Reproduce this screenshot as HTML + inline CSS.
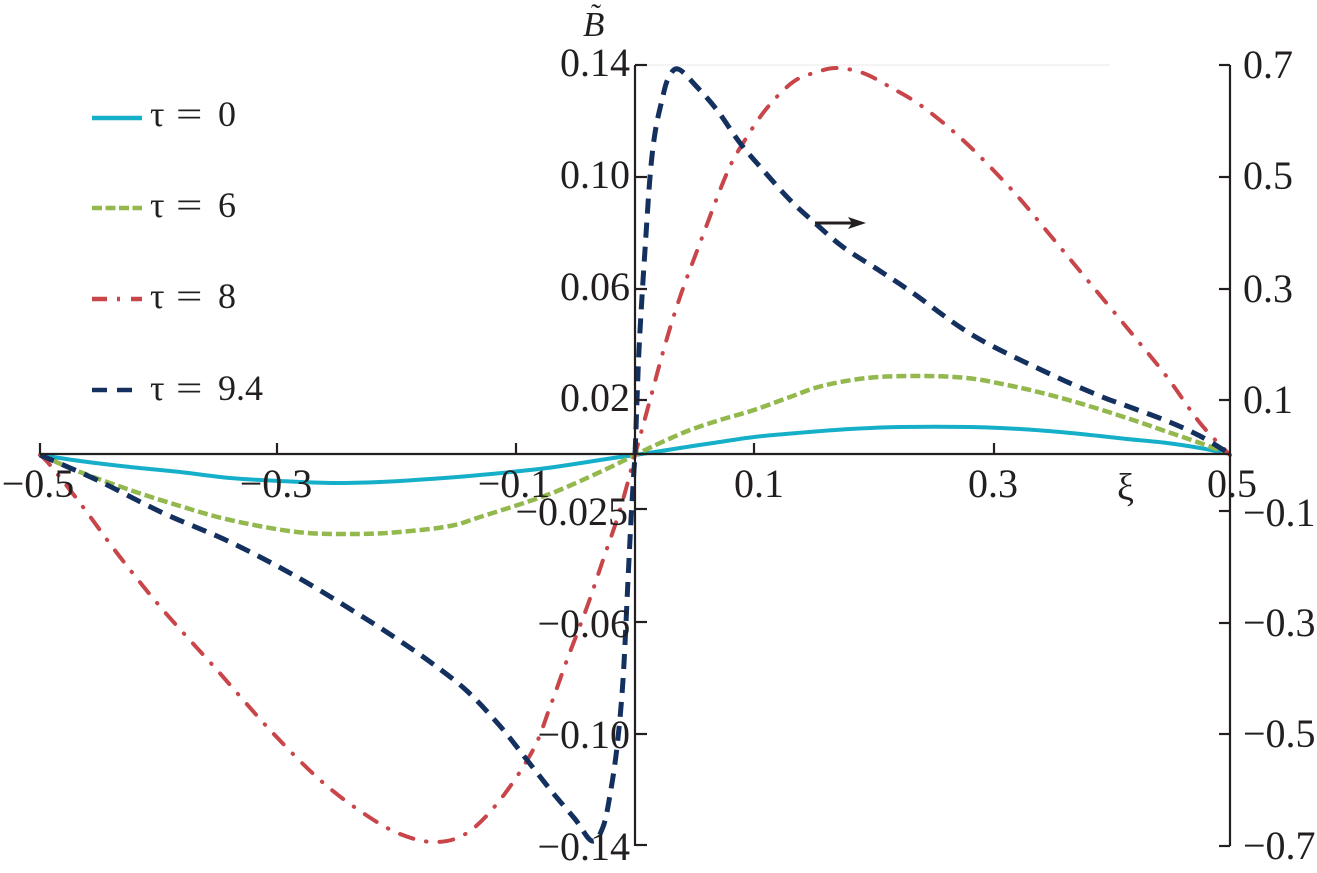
<!DOCTYPE html>
<html><head><meta charset="utf-8"><style>
html,body{margin:0;padding:0;background:#fff;}
svg{display:block;}
</style></head><body>
<svg id="chart" width="1317" height="873" viewBox="0 0 1317 873" xmlns="http://www.w3.org/2000/svg" font-family="'Liberation Serif', 'Times New Roman', serif" fill="#231f20">
<rect width="1317" height="873" fill="#fff"/>
<line x1="647" y1="65" x2="1110" y2="65" stroke="#f0f0f0" stroke-width="1.5"/>

<g fill="none" stroke-linejoin="round">
<polyline class="s" stroke="#16afc9" stroke-width="4" points="40,455 80,461 130,467 180,472 230,478 280,481 330,483 380,482 430,479 480,475 547,468 613,458 635,455 680,448 713,443 754,437 797,433 850,429 900,427 970,427 1020,429 1060,432 1100,436 1127,439 1167,443 1200,448 1230,454"/>
<polyline class="s" stroke="#93b84d" stroke-width="4.5" stroke-dasharray="10 4" points="40,455 80,472 130,490 180,506 230,520 297,532 355,534 400,532 450,526 480,517 547,495 600,472 635,455 660,443 690,430 720,420 754,410 790,397 822,386 867,378 917,376 967,378 1012,386 1050,395 1089,406 1130,419 1165,431 1200,443 1230,454"/>
<polyline class="s" stroke="#c8454a" stroke-width="4" stroke-linecap="round" stroke-dasharray="14 13 0.5 13" points="40,455 50,465 80,503 120,557 163,610 217,670 270,730 320,780 363,813 400,834 435,842 467,833 500,800 533,750 550,707 567,660 587,607 603,560 620,510 635,455 650,400 665,345 680,297 700,243 727,173 745,140 767,108 793,82 817,72 837,68 863,73 890,87 923,107 965,142 1012,190 1050,235 1089,282 1133,335 1167,377 1200,423 1230,455"/>
<polyline class="s" stroke="#14305f" stroke-width="5" stroke-dasharray="15 9" points="40,455 97,480 163,513 230,542 297,577 363,617 400,641 433,664 467,691 500,726 527,760 553,793 575,819 592,841 603,827 610,795 617,747 623,680 628,580 631,520 634,470 635,455 637,400 639,350 642,297 645,250 650,177 655,133 662,100 668,79 678,69 697,87 717,110 740,143 763,170 790,200 815,223 843,247 880,271 913,293 974,336 1050,374 1100,396 1127,406 1167,421 1200,436 1230,454"/>
</g>

<line x1="815" y1="223" x2="852" y2="223" stroke="#231f20" stroke-width="3"/>
<path d="M848,217 L866,223 L848,229 L852,223 Z" fill="#231f20"/>

<g stroke="#231f20" stroke-width="2.2" fill="none">
<line x1="40" y1="454" x2="1230" y2="454"/>
<line x1="635" y1="65" x2="635" y2="846"/>
<line x1="1230" y1="65" x2="1230" y2="846"/>
<line x1="40" y1="443" x2="40" y2="454"/>
<line x1="277" y1="443" x2="277" y2="454"/>
<line x1="516" y1="443" x2="516" y2="454"/>
<line x1="754" y1="443" x2="754" y2="454"/>
<line x1="994" y1="443" x2="994" y2="454"/>
<line x1="635" y1="65" x2="647" y2="65"/>
<line x1="635" y1="177" x2="647" y2="177"/>
<line x1="635" y1="289" x2="647" y2="289"/>
<line x1="635" y1="400" x2="647" y2="400"/>
<line x1="635" y1="509" x2="647" y2="509"/>
<line x1="635" y1="622" x2="647" y2="622"/>
<line x1="635" y1="734" x2="647" y2="734"/>
<line x1="635" y1="845" x2="647" y2="845"/>
<line x1="1219" y1="65" x2="1230" y2="65"/>
<line x1="1219" y1="177" x2="1230" y2="177"/>
<line x1="1219" y1="289" x2="1230" y2="289"/>
<line x1="1219" y1="400" x2="1230" y2="400"/>
<line x1="1219" y1="511" x2="1230" y2="511"/>
<line x1="1219" y1="623" x2="1230" y2="623"/>
<line x1="1219" y1="734" x2="1230" y2="734"/>
<line x1="1219" y1="846" x2="1230" y2="846"/>
</g>

<g font-family="'Liberation Serif', 'Times New Roman', serif" font-size="40" text-anchor="middle" fill="#231f20">
<text x="38" y="497">−0.5</text>
<text x="276" y="497">−0.3</text>
<text x="514" y="497">−0.1</text>
<text x="759" y="497">0.1</text>
<text x="993" y="497">0.3</text>
<text x="1232" y="497">0.5</text>
</g>

<g font-family="'Liberation Serif', 'Times New Roman', serif" font-size="40" text-anchor="end" fill="#231f20">
<text x="630" y="76">0.14</text>
<text x="630" y="188">0.10</text>
<text x="630" y="300">0.06</text>
<text x="630" y="411">0.02</text>
<text x="628" y="525">−0.025</text>
<text x="630" y="637">−0.06</text>
<text x="630" y="748">−0.10</text>
<text x="630" y="860">−0.14</text>
</g>

<g font-family="'Liberation Serif', 'Times New Roman', serif" font-size="40" text-anchor="start" fill="#231f20">
<text x="1243" y="78">0.7</text>
<text x="1243" y="189">0.5</text>
<text x="1243" y="302">0.3</text>
<text x="1243" y="413">0.1</text>
<text x="1243" y="526">−0.1</text>
<text x="1243" y="636">−0.3</text>
<text x="1243" y="747">−0.5</text>
<text x="1243" y="859">−0.7</text>
</g>

<g font-family="'Liberation Serif', 'Times New Roman', serif" fill="#231f20">
<text x="583" y="36" font-size="35" font-style="italic">B</text>
<text x="591" y="24" font-size="30">˜</text>
<text x="1117" y="500" font-size="38">ξ</text>
</g>

<g fill="none" stroke-width="4.5">
<line x1="92" y1="118" x2="142" y2="118" stroke="#16afc9"/>
<line x1="92" y1="208" x2="142" y2="208" stroke="#93b84d" stroke-dasharray="10 3.5"/>
<line x1="92" y1="299" x2="107" y2="299" stroke="#c8454a"/>
<line x1="117" y1="299" x2="120" y2="299" stroke="#c8454a"/>
<line x1="131" y1="299" x2="142" y2="299" stroke="#c8454a"/>
<line x1="92" y1="390" x2="107" y2="390" stroke="#14305f"/>
<line x1="117" y1="390" x2="132" y2="390" stroke="#14305f"/>
</g>
<g font-family="'Liberation Serif', 'Times New Roman', serif" font-size="36" fill="#231f20">
<text x="150" y="126">τ</text>
<text x="176" y="126" transform="translate(176 0) scale(1.3 1) translate(-176 0)">=</text>
<text x="218" y="126">0</text>
<text x="150" y="217">τ</text>
<text x="176" y="217" transform="translate(176 0) scale(1.3 1) translate(-176 0)">=</text>
<text x="218" y="217">6</text>
<text x="150" y="308">τ</text>
<text x="176" y="308" transform="translate(176 0) scale(1.3 1) translate(-176 0)">=</text>
<text x="218" y="308">8</text>
<text x="150" y="400">τ</text>
<text x="176" y="400" transform="translate(176 0) scale(1.3 1) translate(-176 0)">=</text>
<text x="218" y="400">9.4</text>
</g>
</svg>
<script>
(function(){
  var NS="http://www.w3.org/2000/svg";
  var pls=document.querySelectorAll("polyline.s");
  for(var k=0;k<pls.length;k++){
    var pl=pls[k];
    var raw=pl.getAttribute("points").trim().split(/\s+/);
    var p=raw.map(function(s){var a=s.split(",");return [parseFloat(a[0]),parseFloat(a[1])];});
    var d="M"+p[0][0]+","+p[0][1];
    for(var i=0;i<p.length-1;i++){
      var p0=p[i>0?i-1:i],p1=p[i],p2=p[i+1],p3=p[i+2<p.length?i+2:i+1];
      var c1x=p1[0]+(p2[0]-p0[0])/6,c1y=p1[1]+(p2[1]-p0[1])/6;
      var c2x=p2[0]-(p3[0]-p1[0])/6,c2y=p2[1]-(p3[1]-p1[1])/6;
      d+=" C"+c1x.toFixed(2)+","+c1y.toFixed(2)+" "+c2x.toFixed(2)+","+c2y.toFixed(2)+" "+p2[0]+","+p2[1];
    }
    var path=document.createElementNS(NS,"path");
    for(var j=0;j<pl.attributes.length;j++){
      var at=pl.attributes[j];
      if(at.name!=="points"&&at.name!=="class")path.setAttribute(at.name,at.value);
    }
    path.setAttribute("d",d);
    path.setAttribute("fill","none");
    pl.parentNode.replaceChild(path,pl);
  }
})();
</script>
</body></html>
